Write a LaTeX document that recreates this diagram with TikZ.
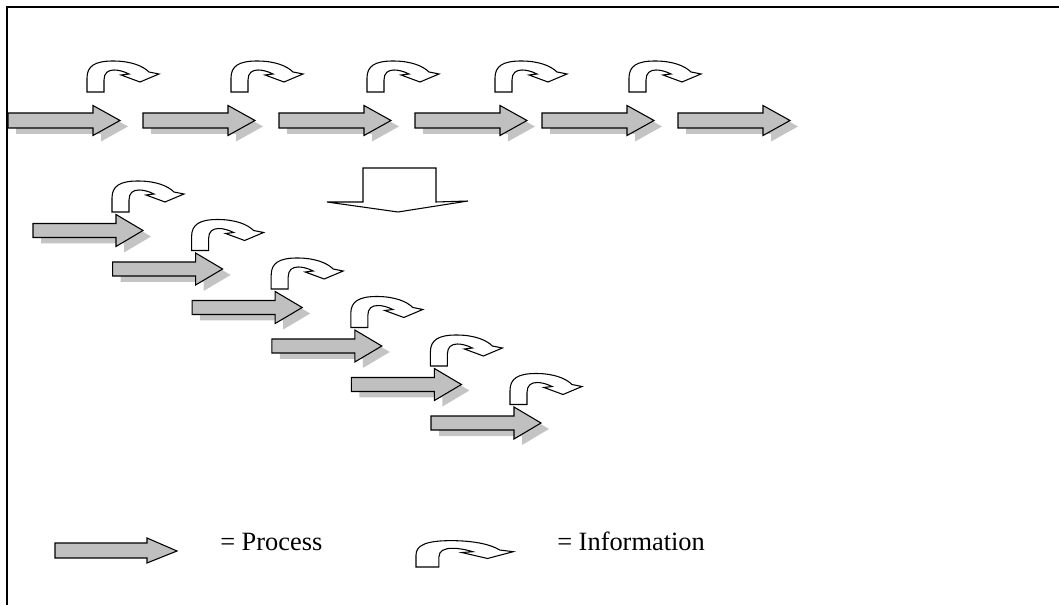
\documentclass[tikz,border=0pt]{standalone}
\usepackage{fontspec}
\setmainfont{Liberation Serif}
\definecolor{procgray}{RGB}{192,192,192}
\definecolor{shadegray}{RGB}{196,196,196}
\tikzset{
  frameline/.style={line width=1.6pt, line cap=rect},
  procbody/.style={draw=black, line width=0.8pt, fill=procgray, line join=miter},
  procshade/.style={fill=shadegray},
  infobody/.style={draw=black, line width=0.8pt, fill=white, line join=miter},
  bigdown/.style={draw=black, line width=0.8pt, fill=white},
  legendtext/.style={anchor=base west, inner sep=0pt, font=\fontsize{19.8}{24}\selectfont}
}
% block arrow with a drop shadow: #1 = left x, #2 = centre y, #3 = length,
% #4 = head length, #5 = half body height, #6 = half head height
\newcommand\procarrow[6]{%
  \fill[procshade, shift={(#1+8,#2+6)}]
    (0,-#5) -- (#3-#4,-#5) -- (#3-#4,-#6) -- (#3,0) -- (#3-#4,#6) -- (#3-#4,#5) -- (0,#5) -- cycle;
  \draw[procbody, shift={(#1,#2)}]
    (0,-#5) -- (#3-#4,-#5) -- (#3-#4,-#6) -- (#3,0) -- (#3-#4,#6) -- (#3-#4,#5) -- (0,#5) -- cycle;
}
% curved information arrow, origin at the bottom left of its stem
\newcommand\infoarrow[3][]{%
  \draw[infobody, shift={(#2,#3)}, #1]
    (0,0) -- (0,-14) .. controls (0,-26) and (8,-31) .. (26,-31)
    .. controls (44,-31) and (56,-26) .. (62,-20)
    -- (72,-18) -- (53,-10) -- (34,-17) -- (42,-18)
    .. controls (36,-21) and (31,-22) .. (27,-22)
    .. controls (21,-22) and (17,-19) .. (17,-12) -- (17,0) -- cycle;
}
\begin{document}
\begin{tikzpicture}[x=0.75pt, y=-0.75pt]
  \useasboundingbox (0,0) rectangle (1059,605);

  % sequential chain of processes
  \foreach \sx in {8,143,279,415,542,678} {
    \procarrow{\sx}{120.5}{112}{27}{7.5}{15}
  }
  \foreach \ix in {87,231,367,495,629} {
    \infoarrow{\ix}{92}
  }

  % transformation
  \draw[bigdown] (363,168) -- (436,168) -- (436,202) -- (468,201)
    -- (398,212) -- (327,202) -- (363,202) -- cycle;

  % overlapping (staggered) processes
  \foreach \k in {0,...,5} {
    \pgfmathsetmacro\px{33+79.6*\k}
    \pgfmathsetmacro\py{230.5+38.5*\k}
    \pgfmathsetmacro\qx{112+79.6*\k}
    \pgfmathsetmacro\qy{212+38.5*\k}
    \procarrow{\px}{\py}{110}{27}{7}{16}
    \infoarrow{\qx}{\qy}
  }

  % legend
  \draw[procbody] (55,543) -- (147,543) -- (147,538) -- (177,551)
    -- (147,563) -- (147,558) -- (55,558) -- cycle;
  \node[legendtext] (proclabel) at (220,550) {= Process};
  \infoarrow[xscale=1.35, yscale=0.85]{416}{567}
  \node[legendtext] (infolabel) at (557,550) {= Information};

  % frame
  \draw[frameline] (7,605) -- (7,7) -- (1059,7);
\end{tikzpicture}
\end{document}
